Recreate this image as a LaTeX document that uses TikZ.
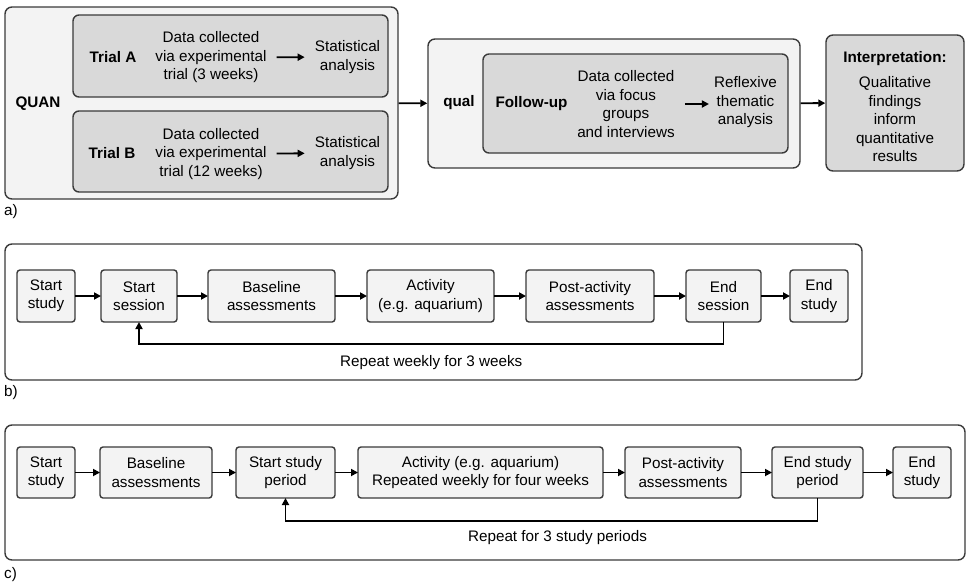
\documentclass[tikz,border=0pt]{standalone}
\usepackage{fontspec}
\setmainfont{Liberation Sans}
\usetikzlibrary{arrows.meta, positioning}

\definecolor{edgegray}{HTML}{3A3A3A}
\definecolor{fillpale}{HTML}{F3F3F3}
\definecolor{filldark}{HTML}{D9D9D9}
\newcommand{\diagfont}{\fontsize{15.25}{18.5}\selectfont}

\tikzset{
  panel/.style={draw=edgegray, line width=1.4pt, rounded corners=7pt, fill=white},
  strand/.style={panel, fill=fillpale},
  subbox/.style={draw=edgegray, line width=1.4pt, rounded corners=6pt, fill=filldark},
  stepbox/.style={draw=edgegray, line width=1.4pt, rounded corners=3pt, fill=fillpale,
    minimum height=52pt, align=center, inner sep=2pt, outer sep=0pt},
  txt/.style={align=center, inner xsep=10pt, inner ysep=2pt},
  headtxt/.style={txt, font=\diagfont\bfseries},
  flow/.style={-{Triangle[length=7pt,width=7pt]}, line width=1.8pt}
}

\begin{document}
\begin{tikzpicture}[x=1pt, y=-1pt, font=\diagfont]
  \useasboundingbox (0,0) rectangle (966,584);

  % a) QUAN strand
  \node[strand, minimum width=393pt, minimum height=192pt] (quanbox) at (201.5,103) {};
  \node[headtxt] (quan) at (38,104) {QUAN};
  \node[subbox, minimum width=315pt, minimum height=82pt] (trialAbox) at (230.5,56) {};
  \node[subbox, minimum width=315pt, minimum height=81pt] (trialBbox) at (230.5,151.5) {};
  \node[headtxt] (trialA) at (113,57) {Trial A};
  \node[txt] (dataA) at (211,57.5) {Data collected\\via experimental\\trial (3 weeks)};
  \node[txt] (statA) at (347.5,57) {Statistical\\analysis};
  \node[headtxt] (trialB) at (112,153) {Trial B};
  \node[txt] (dataB) at (211,154) {Data collected\\via experimental\\trial (12 weeks)};
  \node[txt] (statB) at (347.5,153) {Statistical\\analysis};

  % a) qual strand and interpretation
  \node[strand, minimum width=372pt, minimum height=129pt] (qualbox) at (614,103.5) {};
  \node[headtxt] (qual) at (459,103) {qual};
  \node[subbox, minimum width=305pt, minimum height=99pt] (followbox) at (635.5,103.5) {};
  \node[headtxt] (follow) at (531.5,104) {Follow-up};
  \node[txt] (dataF) at (626,104) {Data collected\\via focus\\groups\\and interviews};
  \node[txt, inner xsep=5pt] (thematic) at (745.5,102.5) {Reflexive\\thematic\\analysis};
  \node[subbox, rounded corners=7pt, minimum width=138pt, minimum height=136pt] (interp) at (895,103) {};
  \node[txt] (interptxt) at (895,107) {\textbf{Interpretation:}\\[6.5pt]Qualitative\\findings\\inform\\quantitative\\results};

  \path[flow]
  (dataA) edge (statA)
  (dataB) edge (statB)
  (dataF.east) edge (dataF.east -| thematic.west)
  (quanbox) edge (qualbox)
  (qualbox) edge (interp);

  \node[anchor=west, inner sep=0pt] (tagA) at (4,212) {a)};

  % b) weekly sessions
  \node[panel, minimum width=857pt, minimum height=136pt] (panelB) at (433.5,312) {};
  \node[stepbox, minimum width=58pt] (bss) at (46,296) {Start\\study};
  \node[stepbox, minimum width=76pt, right=26pt of bss] (bse) {Start\\session};
  \node[stepbox, minimum width=127pt, right=31pt of bse] (bba) {Baseline\\assessments};
  \node[stepbox, minimum width=127pt, right=32pt of bba] (bac) {Activity\\(e.g. aquarium)};
  \node[stepbox, minimum width=128pt, right=32pt of bac] (bpa) {Post-activity\\assessments};
  \node[stepbox, minimum width=75pt, right=32pt of bpa] (bes) {End\\session};
  \node[stepbox, minimum width=58pt, right=29pt of bes] (bst) {End\\study};

  \path[flow]
  (bss) edge (bse)
  (bse) edge (bba)
  (bba) edge (bac)
  (bac) edge (bpa)
  (bpa) edge (bes)
  (bes) edge (bst);
  \draw[flow] (bes.south) -- ++(0,22) -| node[pos=0.25, below=7pt] (repB) {Repeat weekly for 3 weeks} (bse.south);

  \node[anchor=west, inner sep=0pt] (tagB) at (4,393) {b)};

  % c) study periods
  \node[panel, minimum width=960pt, minimum height=135pt] (panelC) at (485,492.5) {};
  \node[stepbox, minimum width=58pt, minimum height=51pt] (css) at (46,472.5) {Start\\study};
  \node[stepbox, minimum width=112pt, minimum height=51pt, right=25pt of css] (cba) {Baseline\\assessments};
  \node[stepbox, minimum width=99pt, minimum height=51pt, right=24pt of cba] (csp) {Start study\\period};
  \node[stepbox, minimum width=245pt, minimum height=51pt, right=23pt of csp] (cac) {Activity (e.g. aquarium)\\Repeated weekly for four weeks};
  \node[stepbox, minimum width=116pt, minimum height=51pt, right=22pt of cac] (cpa) {Post-activity\\assessments};
  \node[stepbox, minimum width=91pt, minimum height=51pt, right=31pt of cpa] (cep) {End study\\period};
  \node[stepbox, minimum width=58pt, minimum height=51pt, right=30pt of cep] (cst) {End\\study};

  \path[flow]
  (css) edge (cba)
  (cba) edge (csp)
  (csp) edge (cac)
  (cac) edge (cpa)
  (cpa) edge (cep)
  (cep) edge (cst);
  \draw[flow] (cep.south) -- ++(0,23) -| node[pos=0.25, below=5pt, xshift=6pt] (repC) {Repeat for 3 study periods} (csp.south);

  \node[anchor=west, inner sep=0pt] (tagC) at (4,575) {c)};
\end{tikzpicture}
\end{document}
